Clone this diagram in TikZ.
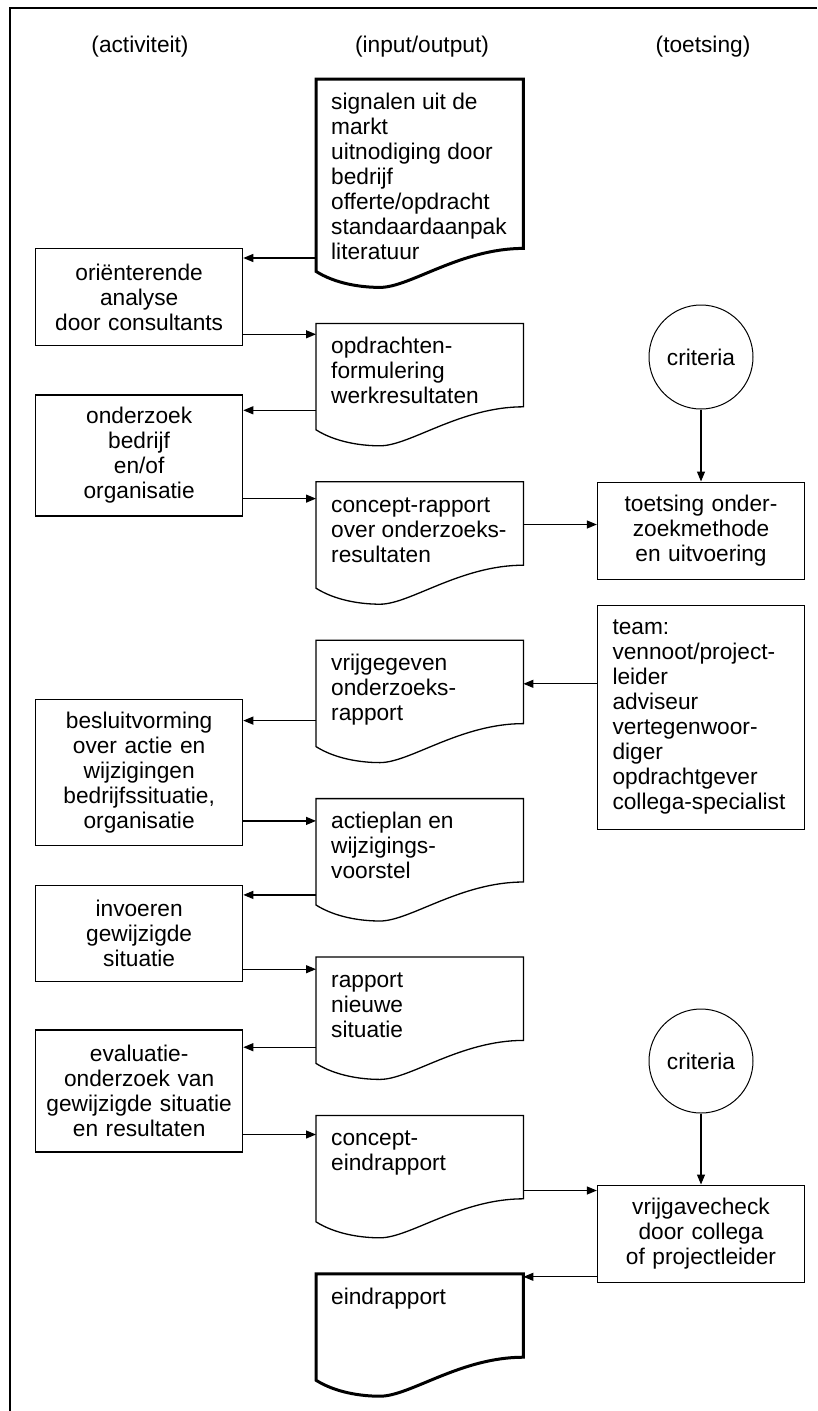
\documentclass[tikz,border=0pt]{standalone}
\usepackage{fontspec}
\setmainfont{Liberation Sans}
\usetikzlibrary{positioning,arrows.meta,calc}
\tikzset{
  box/.style   ={draw, line width=1.3pt, minimum width=207pt, text width=195pt,
                 align=center, inner xsep=6pt, inner ysep=4pt},
  act/.style   ={box, anchor=north west},
  team/.style  ={box, align=left, text width=177pt, inner xsep=15pt},
  crit/.style  ={circle, draw, line width=1pt, minimum size=104pt, inner sep=0pt},
  doc/.style   ={inner xsep=15pt, inner ysep=0pt,
                 execute at begin node={\begin{minipage}[t][#1][t]{177pt}\rule{0pt}{30pt}},
                 execute at end node={\end{minipage}}},
  doc/.default =122pt,
  docline/.style ={line width=1.3pt},
  docthick/.style={line width=3pt},
  fl/.style    ={-{Triangle[length=10pt,width=8pt]}, line width=1.2pt},
}
\newcommand{\docshape}[2][docline]{%
  \draw[#1] (#2.north west) -- (#2.north east) -- ([yshift=39pt]#2.south east)
    .. controls +(-63pt,0pt) and +(30pt,0pt) .. ([xshift=64pt]#2.south west)
    .. controls +(-20pt,0pt) and +(19pt,-12pt) .. ([yshift=16pt]#2.south west) -- cycle;}

\begin{document}
\begin{tikzpicture}[x=1pt, y=1pt, font=\fontsize{22.7pt}{25pt}\selectfont]
  \useasboundingbox (0,0) rectangle (817,-1411);
  \draw[line width=2pt] (817,-8) -- (10,-8) -- (10,-1411);

  % --- column heads ---------------------------------------------------
  \node (hact) at (140,-47) {(activiteit)};
  \node (hio)  at (422,-47) {(input/output)};
  \node (htst) at (703,-47) {(toetsing)};

  % --- input/output documents -----------------------------------------
  \node[doc=208pt, anchor=north west] (sign) at (316,-79)
        {signalen uit de\\ markt\\ uitnodiging door\\ bedrijf\\
         offerte/opdracht\\ standaardaanpak\\ literatuur};
  \node[doc, below=36pt of sign]    (opdr)    {opdrachten-\\ formulering\\ werkresultaten};
  \node[doc, below=36pt of opdr]    (crap)    {concept-rapport\\ over onderzoeks-\\ resultaten};
  \node[doc, below=36pt of crap]    (vrijrap) {vrijgegeven\\ onderzoeks-\\ rapport};
  \node[doc, below=36pt of vrijrap] (actie)   {actieplan en\\ wijzigings-\\ voorstel};
  \node[doc, below=36pt of actie]   (rapnw)   {rapport\\ nieuwe\\ situatie};
  \node[doc, below=36pt of rapnw]   (ceind)   {concept-\\ eindrapport};
  \node[doc, below=36pt of ceind]   (eind)    {eindrapport};

  \docshape[docthick]{sign}
  \docshape{opdr}
  \docshape{crap}
  \docshape{vrijrap}
  \docshape{actie}
  \docshape{rapnw}
  \docshape{ceind}
  \docshape[docthick]{eind}

  % --- activities -----------------------------------------------------
  \node[act, minimum height=97pt] (orient) at (35,-248)
        {oriënterende\\ analyse\\ door consultants};
  \node[act, minimum height=121pt, below=48pt of orient, anchor=north] (onderz)
        {onderzoek\\ bedrijf\\ en/of\\ organisatie};
  \node[act, minimum height=146pt, below=182pt of onderz, anchor=north] (besluit)
        {besluitvorming\\ over actie en\\ wijzigingen\\ bedrijfssituatie,\\ organisatie};
  \node[act, minimum height=96pt, below=39pt of besluit, anchor=north] (invoer)
        {invoeren\\ gewijzigde\\ situatie};
  \node[act, minimum height=122pt, below=47pt of invoer, anchor=north] (evalu)
        {evaluatie-\\ onderzoek van\\ gewijzigde situatie\\ en resultaten};

  % --- checks ---------------------------------------------------------
  \node[crit] (crit1) at (701,-357) {criteria};
  \node[box, minimum height=97pt, below=72pt of crit1] (toets)
        {toetsing onder-\\ zoekmethode\\ en uitvoering};
  \node[team, minimum height=224pt, below=25pt of toets] (team)
        {team:\\ vennoot/project-\\ leider\\ adviseur\\ vertegenwoor-\\ diger\\
         opdrachtgever\\ collega-specialist};
  \node[crit] (crit2) at (701,-1061) {criteria};
  \node[box, minimum height=97pt, below=71pt of crit2] (vrijg)
        {vrijgavecheck\\ door collega\\ of projectleider};

  % --- arrows ---------------------------------------------------------
  \draw[fl] ([yshift=-10pt]orient.north east -| sign.west) -- ([yshift=-10pt]orient.north east);
  \draw[fl] ([yshift=12pt]orient.south east) -- ([yshift=12pt]orient.south east -| opdr.west);
  \draw[fl] ([yshift=-16pt]onderz.north east -| opdr.west) -- ([yshift=-16pt]onderz.north east);
  \draw[fl] ([yshift=18pt]onderz.south east) -- ([yshift=18pt]onderz.south east -| crap.west);
  \draw[fl] ([yshift=-43pt]toets.north west -| crap.east) -- ([yshift=-43pt]toets.north west);
  \draw[fl] (crit1.south) -- (crit1.south |- toets.north);
  \draw[fl] ([yshift=-79pt]team.north west) -- ([yshift=-79pt]team.north west -| vrijrap.east);
  \draw[fl] ([yshift=-22pt]besluit.north east -| vrijrap.west) -- ([yshift=-22pt]besluit.north east);
  \draw[fl] ([yshift=25pt]besluit.south east) -- ([yshift=25pt]besluit.south east -| actie.west);
  \draw[fl] ([yshift=-10pt]invoer.north east -| actie.west) -- ([yshift=-10pt]invoer.north east);
  \draw[fl] ([yshift=13pt]invoer.south east) -- ([yshift=13pt]invoer.south east -| rapnw.west);
  \draw[fl] ([yshift=-18pt]evalu.north east -| rapnw.west) -- ([yshift=-18pt]evalu.north east);
  \draw[fl] ([yshift=18pt]evalu.south east) -- ([yshift=18pt]evalu.south east -| ceind.west);
  \draw[fl] (crit2.south) -- (crit2.south |- vrijg.north);
  \draw[fl] ([yshift=-6pt]vrijg.north west -| ceind.east) -- ([yshift=-6pt]vrijg.north west);
  \draw[fl] ([yshift=6pt]vrijg.south west) -- ([yshift=6pt]vrijg.south west -| eind.east);
\end{tikzpicture}
\end{document}
